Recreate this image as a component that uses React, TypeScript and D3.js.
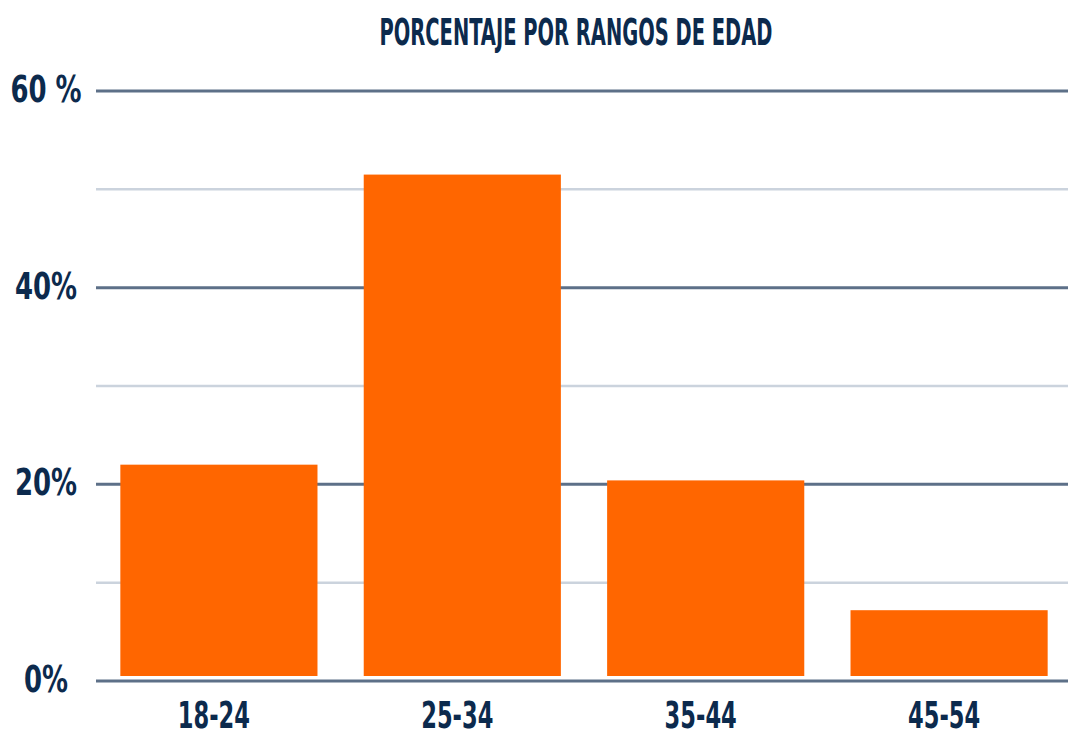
import React from "react";
import * as d3 from "d3";

const TITLE = "PORCENTAJE POR RANGOS DE EDAD";
const categories = ["18-24", "25-34", "35-44", "45-54"];
const values = [22, 51.5, 20.4, 7.2];
const majorTicks = [0, 20, 40, 60];
const majorTickLabels = ["0%", "20%", "40%", "60 %"];
const minorTicks = [10, 30, 50];

const W = 1068;
const H = 736;
const NAVY = "#0c2a4d";
const ORANGE = "#ff6600";
const FONT = "'DejaVu Sans Condensed', 'Liberation Sans Narrow', sans-serif";

export default function App() {
  const y = d3.scaleLinear().domain([0, 60]).range([681, 91]);
  const x = d3.scaleBand<string>().domain(categories).range([96, 1072]).paddingInner(0.19).paddingOuter(0.1);
  const gridX1 = 96;
  const gridX2 = W;

  const cText = (txt: string, cx: number, by: number, size: number, sx: number, key?: string) => (
    <text
      key={key}
      transform={`translate(${cx},${by}) scale(${sx},1)`}
      textAnchor="middle"
      fontFamily={FONT}
      fontWeight="bold"
      fontSize={size}
      fill={NAVY}
    >
      {txt}
    </text>
  );

  return (
    <svg width={W} height={H} style={{ position: "absolute", left: 0, top: 0, background: "#fff" }}>
      <rect x={0} y={0} width={W} height={H} fill="#fff" />
      <text
        x={576}
        y={45}
        textAnchor="middle"
        fontFamily={FONT}
        fontWeight="bold"
        fontSize={38}
        fill={NAVY}
        textLength={393}
        lengthAdjust="spacingAndGlyphs"
      >
        {TITLE}
      </text>
      {minorTicks.map((t) => (
        <line key={"mn" + t} x1={gridX1} x2={gridX2} y1={y(t)} y2={y(t)} stroke="#cbd3dd" strokeWidth={2.5} />
      ))}
      {majorTicks.map((t) => (
        <line key={"mj" + t} x1={gridX1} x2={gridX2} y1={y(t)} y2={y(t)} stroke="#5d7088" strokeWidth={3} />
      ))}
      {majorTicks.map((t, i) => cText(majorTickLabels[i], 46, y(t) + 11, 38, 0.76, "yl" + t))}
      {categories.map((c, i) => (
        <rect
          key={"b" + c}
          x={x(c)!}
          width={x.bandwidth()}
          y={y(values[i])}
          height={y(0) - 5 - y(values[i])}
          fill={ORANGE}
        />
      ))}
      {categories.map((c) => cText(c, x(c)! + x.bandwidth() / 2 - 5, 728, 38, 0.66, "xl" + c))}
    </svg>
  );
}
